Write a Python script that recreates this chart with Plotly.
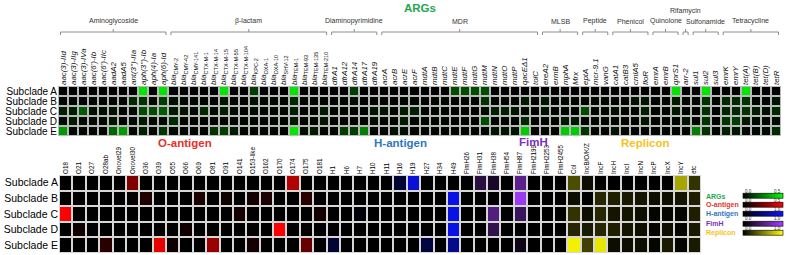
import plotly.graph_objects as go

W, H = 787, 255

subclades = ["Subclade A", "Subclade B", "Subclade C", "Subclade D", "Subclade E"]

# ---------------- ARGs (top heatmap) ----------------
group_names = ["Aminoglycoside", "β-lactam", "Diaminopyrimidine", "MDR", "MLSB", "Peptide",
               "Phenicol", "Quinolone", "Rifamycin", "Sulfonamide", "Tetracycline"]
aminoglycoside = ["aac(3)-IId", "aac(3)-IIg", "aac(3)-IVa", "aac(6')-Ib", "aac(6')-IIc", "aadA2", "aadA5",
                  "ant(3'')-IIa", "aph(3'')-Ib", "aph(4)-Ia", "aph(6)-Id"]
beta_lactam = ["bla_CMY-2", "bla_CMY-42", "bla_CMY-141", "bla_CTX-M-1", "bla_CTX-M-14", "bla_CTX-M-15",
               "bla_CTX-M-55", "bla_CTX-M-104", "bla_KPC-2", "bla_OXA-1", "bla_OXA-10", "bla_SHV-12",
               "bla_TEM-1", "bla_TEM-93", "bla_TEM-135", "bla_TEM-210"]
diaminopyrimidine = ["dfrA1", "dfrA12", "dfrA14", "dfrA17", "dfrA19"]
mdr = ["acrA", "acrB", "acrE", "acrF", "mdtA", "mdtB", "mdtC", "mdtE", "mdtF", "mdtG", "mdtM", "mdtN",
       "mdtO", "mdtP", "qacEΔ1", "tolC"]
mlsb = ["ereA2", "ermB", "mphA", "Mrx"]
peptide = ["eptA", "mcr-9.1", "vanG"]
phenicol = ["catA1", "catB3", "cmlA5", "floR"]
quinolone = ["emrA", "emrB", "qnrS1"]
rifamycin = ["arr-2"]
sulfonamide = ["sul1", "sul2", "sul3"]
tetracycline = ["emrK", "emrY", "tet(A)", "tet(B)", "tet(D)", "tetR"]
arg_groups = [aminoglycoside, beta_lactam, diaminopyrimidine, mdr, mlsb, peptide,
              phenicol, quinolone, rifamycin, sulfonamide, tetracycline]

args_A = [0, 0, 0, 0, 0, 0, 0, 0, 0.45, 0, 0.45,
          0, 0, 0, 0, 0, 0.45, 0, 0, 0.12, 0, 0, 0, 0.45, 0, 0, 0,
          0, 0, 0.12, 0, 0,
          0, 0, 0, 0, 0, 0, 0, 0.15, 0.15, 0.15, 0.15, 0, 0, 0, 0, 0,
          0, 0, 0, 0,
          0, 0, 0,
          0, 0, 0, 0,
          0, 0, 0.45,
          0,
          0, 0.45, 0,
          0, 0, 0.45, 0, 0, 0]
args_B = [0.01, 0.01, 0.01, 0.01, 0.01, 0.01, 0.01, 0.08, 0.1, 0.01, 0.12,
          0.03, 0.01, 0.01, 0.01, 0.01, 0.04, 0.01, 0.01, 0.03, 0.01, 0.01, 0.01, 0.08, 0.01, 0.01, 0.01,
          0.01, 0.01, 0.03, 0.01, 0.01,
          0.01, 0.01, 0.01, 0.01, 0.01, 0.01, 0.01, 0.01, 0.01, 0.01, 0.1, 0.01, 0.01, 0.01, 0.05, 0.01,
          0.04, 0.01, 0.01, 0.01,
          0.01, 0.01, 0.01,
          0.01, 0.01, 0.04, 0.04,
          0.01, 0.01, 0.05,
          0.01,
          0.01, 0.1, 0.01,
          0.08, 0.08, 0.1, 0.01, 0.01, 0.04]
args_C = [0.06, 0.06, 0.18, 0.03, 0.03, 0.04, 0.01, 0.02, 0.15, 0.15, 0.18,
          0.05, 0.04, 0.02, 0.08, 0.02, 0.06, 0.02, 0.01, 0.02, 0.01, 0.01, 0.02, 0.06, 0.01, 0.01, 0.05,
          0.01, 0.01, 0.01, 0.01, 0.04,
          0.04, 0.01, 0.05, 0.06, 0.01, 0.01, 0.01, 0.01, 0.01, 0.01, 0.02, 0.06, 0.06, 0.04, 0.02, 0.01,
          0.04, 0.01, 0.01, 0.01,
          0.15, 0.01, 0.01,
          0.03, 0.01, 0.01, 0.06,
          0.01, 0.01, 0.05,
          0.01,
          0.01, 0.1, 0.01,
          0.07, 0.08, 0.1, 0.06, 0.03, 0.08]
args_D = [0.02, 0.05, 0.02, 0.02, 0.02, 0.04, 0.01, 0.02, 0.05, 0.02, 0.02,
          0.08, 0.01, 0.01, 0.01, 0.01, 0.01, 0.01, 0.01, 0.01, 0.01, 0.01, 0.01, 0.05, 0.01, 0.01, 0.04,
          0.01, 0.01, 0.01, 0.01, 0.03,
          0.01, 0.01, 0.05, 0.01, 0.01, 0.01, 0.01, 0.01, 0.01, 0.01, 0.15, 0.01, 0.01, 0.01, 0.08, 0.01,
          0.01, 0.01, 0.05, 0.05,
          0.01, 0.01, 0.01,
          0.01, 0.01, 0.01, 0.04,
          0.01, 0.01, 0.01,
          0.04,
          0.01, 0.1, 0.01,
          0.1, 0.12, 0.05, 0.02, 0.02, 0.02]
args_E = [0.3, 0.01, 0.01, 0.01, 0.01, 0.2, 0.3, 0.01, 0.06, 0.01, 0.1,
          0.01, 0.01, 0.01, 0.01, 0.1, 0.12, 0.05, 0.01, 0.01, 0.01, 0.01, 0.01, 0.45, 0.03, 0.05, 0.01,
          0.01, 0.12, 0.12, 0.25, 0.01,
          0.01, 0.03, 0.03, 0.01, 0.01, 0.01, 0.01, 0.01, 0.01, 0.01, 0.01, 0.04, 0.04, 0.04, 0.4, 0.01,
          0.01, 0.01, 0.4, 0.4,
          0.1, 0.01, 0.01,
          0.04, 0.01, 0.01, 0.01,
          0.01, 0.01, 0.01,
          0.01,
          0.25, 0.1, 0.01,
          0.06, 0.04, 0.02, 0.02, 0.02, 0.08]

# ---------------- bottom heatmap ----------------
o_antigens = ["O18", "O21", "O27", "O28ab", "Onovel29", "Onovel30", "O36", "O39", "O55", "O66", "O69",
              "O81", "O91", "O141", "O153-like", "O162", "O170", "O174", "O175", "O181"]
o_A = [0, 0, 0, 0, 0, 0.25, 0, 0, 0, 0, 0, 0, 0, 0, 0, 0, 0, 0.35, 0, 0]
o_B = [0, 0, 0, 0, 0, 0.01, 0.06, 0, 0, 0, 0.05, 0, 0.03, 0, 0.04, 0.05, 0, 0, 0.08, 0]
o_C = [0.5, 0, 0, 0, 0, 0, 0, 0, 0, 0, 0, 0, 0, 0.04, 0, 0, 0, 0, 0, 0.04]
o_D = [0, 0.03, 0, 0, 0, 0, 0, 0, 0, 0.03, 0, 0, 0, 0, 0, 0, 0.5, 0, 0, 0]
o_E = [0, 0, 0, 0.08, 0, 0, 0, 0.45, 0.03, 0, 0, 0.3, 0, 0, 0.04, 0, 0, 0, 0.2, 0]

h_antigens = ["H1", "H6", "H7", "H10", "H11", "H16", "H19", "H27", "H34", "H49"]
h_A = [0, 0, 0, 0, 0, 0.2, 0.85, 0, 0, 0]
h_B = [0, 0, 0, 0, 0, 0, 0, 0, 0, 0.9]
h_C = [0, 0, 0.04, 0, 0, 0, 0, 0, 0, 0.9]
h_D = [0, 0, 0, 0, 0, 0, 0, 0, 0, 0.9]
h_E = [0.2, 0, 0, 0, 0, 0, 0, 0.25, 0, 0.55]

fimh_types = ["FimH26", "FimH31", "FimH38", "FimH54", "FimH87", "FimH2199", "FimH2253", "FimH2455"]
f_A = [0, 0.25, 0.15, 0, 0.55, 0, 0, 0]
f_B = [0, 0, 0, 0, 0.95, 0, 0, 0]
f_C = [0, 0, 0.5, 0, 0.35, 0, 0, 0]
f_D = [0, 0, 0.3, 0, 0, 0, 0, 0]
f_E = [0, 0, 0, 0, 0.08, 0, 0, 0]

replicons = ["Col", "IncB/O/K/Z", "IncF", "IncH", "IncI", "IncN", "IncP", "IncX", "IncY", "etc"]
r_A = [0.3, 0.05, 0, 0, 0, 0, 0, 0, 0.65, 0.2]
r_B = [0.05, 0, 0.15, 0.12, 0.1, 0.08, 0.05, 0.05, 0.08, 0.12]
r_C = [0.2, 0.05, 0.15, 0.08, 0.08, 0.05, 0.02, 0.02, 0.02, 0.12]
r_D = [0.15, 0.1, 0.15, 0.12, 0.08, 0.05, 0.02, 0.05, 0.02, 0.1]
r_E = [0.95, 0.25, 0.9, 0.05, 0.05, 0.05, 0.02, 0.1, 0.02, 0.1]

# ---------------- styling ----------------
FONT = "Liberation Sans, Arial, sans-serif"
ARG_COL, O_COL, H_COL, F_COL, R_COL = "#1fa84f", "#e8302a", "#2e78c2", "#7a2fc0", "#f7c21a"


def px_x(p):
    return p / W


def px_y(p):
    return 1 - p / H


def fmt_gene(g):
    if g.startswith("bla_"):
        return "<i>bla</i><sub>" + g[4:] + "</sub>"
    return "<i>" + g + "</i>"


arg_names = [g for grp in arg_groups for g in grp]
arg_z = [args_A, args_B, args_C, args_D, args_E]

TOP_X0, TOP_X1, TOP_Y0, TOP_Y1 = 58, 781, 86, 136
BOT_X0, BOT_X1, BOT_Y0, BOT_Y1 = 59, 701, 175, 253

cb_x = px_x(743)


def cbar(y_px):
    return dict(orientation="h", x=cb_x, xanchor="left", y=px_y(y_px), yanchor="middle",
                len=40, lenmode="pixels", thickness=5, thicknessmode="pixels",
                outlinewidth=0.6, outlinecolor="#000", showticklabels=False, ticks="",
                xpad=0, ypad=0, borderwidth=0)


fig = go.Figure()
fig.add_trace(go.Heatmap(z=arg_z, x=arg_names, y=subclades, xaxis="x", yaxis="y",
                         colorscale=[[0, "#000000"], [1, "#00ff00"]], zmin=0, zmax=0.5,
                         xgap=2, ygap=2, colorbar=cbar(196), hoverinfo="skip"))
bottom_sets = [
    (o_antigens, [o_A, o_B, o_C, o_D, o_E], "#ff0000", 0.5, 205),
    (h_antigens, [h_A, h_B, h_C, h_D, h_E], "#0a14ff", 1.0, 214),
    (fimh_types, [f_A, f_B, f_C, f_D, f_E], "#a43cff", 1.0, 223.5),
    (replicons, [r_A, r_B, r_C, r_D, r_E], "#ffff00", 1.0, 233),
]
for names, z, col, zmax, cby in bottom_sets:
    fig.add_trace(go.Heatmap(z=z, x=names, y=subclades, xaxis="x2", yaxis="y2",
                             colorscale=[[0, "#000000"], [1, col]], zmin=0, zmax=zmax,
                             xgap=2, ygap=2, colorbar=cbar(cby), hoverinfo="skip"))

bottom_names = o_antigens + h_antigens + fimh_types + replicons

axis_common = dict(showgrid=False, zeroline=False, showline=False, ticks="", automargin=False,
                   fixedrange=True)
fig.update_layout(
    width=W, height=H, margin=dict(l=0, r=0, t=0, b=0, autoexpand=False),
    template="none", paper_bgcolor="white", plot_bgcolor="#b9b9b9",
    font=dict(family=FONT, color="#000"),
    showlegend=False,
    xaxis=dict(domain=[px_x(TOP_X0), px_x(TOP_X1)], anchor="y", side="top", type="category",
               categoryorder="array", categoryarray=arg_names, tickmode="array",
               tickvals=arg_names, ticktext=[fmt_gene(g) for g in arg_names],
               tickangle=-90, tickfont=dict(size=7.9, family=FONT, color="#111"), **axis_common),
    yaxis=dict(domain=[px_y(TOP_Y1), px_y(TOP_Y0)], anchor="x", autorange="reversed",
               type="category", tickmode="array", tickvals=subclades,
               tickfont=dict(size=10, family=FONT, color="#000"), **axis_common),
    xaxis2=dict(domain=[px_x(BOT_X0), px_x(BOT_X1)], anchor="y2", side="top", type="category",
                categoryorder="array", categoryarray=bottom_names, tickmode="array",
                tickvals=bottom_names,
                tickangle=-90, tickfont=dict(size=6.3, family=FONT, color="#000"), **axis_common),
    yaxis2=dict(domain=[px_y(BOT_Y1), px_y(BOT_Y0)], anchor="x2", autorange="reversed",
                type="category", tickmode="array", tickvals=subclades,
                tickfont=dict(size=10.5, family=FONT, color="#000"), **axis_common),
)

shapes = [dict(type="rect", xref="x2 domain", yref="y2 domain", x0=0, x1=1, y0=0, y1=1,
               fillcolor="#d6d6d6", line=dict(width=0), layer="below")]
annotations = []

# group brackets and names above the ARG columns
start = 0
for gname, grp in zip(group_names, arg_groups):
    i0, i1 = start, start + len(grp) - 1
    start += len(grp)
    xa, xb = i0 - 0.25, i1 + 0.25
    xm = (i0 + i1) / 2
    line = dict(color="#8c8c8c", width=1)
    shapes.append(dict(type="line", xref="x", yref="paper", x0=xa, x1=xb, y0=px_y(32), y1=px_y(32), line=line))
    shapes.append(dict(type="line", xref="x", yref="paper", x0=xa, x1=xa, y0=px_y(32), y1=px_y(35), line=line))
    shapes.append(dict(type="line", xref="x", yref="paper", x0=xb, x1=xb, y0=px_y(32), y1=px_y(35), line=line))
    shapes.append(dict(type="line", xref="x", yref="paper", x0=xm, x1=xm, y0=px_y(29), y1=px_y(32), line=line))
    ty = 11 if gname == "Rifamycin" else 21
    annotations.append(dict(text=gname, xref="x", yref="paper", x=xm, y=px_y(ty), showarrow=False,
                            xanchor="center", yanchor="middle",
                            font=dict(size=7, family=FONT, color="#333")))

# section titles
titles = [("ARGs", ARG_COL, 420, 8), ("O-antigen", O_COL, 185, 143), ("H-antigen", H_COL, 400, 143),
          ("FimH", F_COL, 533, 142), ("Replicon", R_COL, 645, 143)]
for t, c, x, y in titles:
    annotations.append(dict(text="<b>" + t + "</b>", xref="paper", yref="paper", x=px_x(x), y=px_y(y),
                            showarrow=False, xanchor="center", yanchor="middle",
                            font=dict(size=11.5, family=FONT, color=c)))

# colour legend labels and bar ends
legend_items = [("ARGs", ARG_COL, 196, "0.5"), ("O-antigen", O_COL, 205, "0.5"), ("H-antigen", H_COL, 214, "1.0"),
                ("FimH", F_COL, 223.5, "1.0"), ("Replicon", R_COL, 233, "1.0")]
for t, c, y, top in legend_items:
    annotations.append(dict(text="<b>" + t + "</b>", xref="paper", yref="paper", x=px_x(704), y=px_y(y),
                            showarrow=False, xanchor="left", yanchor="middle",
                            font=dict(size=7, family=FONT, color=c)))
    annotations.append(dict(text="0.0", xref="paper", yref="paper", x=px_x(743), y=px_y(y - 5),
                            showarrow=False, xanchor="left", yanchor="middle",
                            font=dict(size=4.5, family=FONT, color="#333")))
    annotations.append(dict(text=top, xref="paper", yref="paper", x=px_x(783), y=px_y(y - 5),
                            showarrow=False, xanchor="right", yanchor="middle",
                            font=dict(size=4.5, family=FONT, color="#333")))

fig.update_layout(shapes=shapes, annotations=annotations)
fig.write_html("out.html", config={"displayModeBar": False},
               post_script="document.body.style.margin='0';document.body.style.padding='0';"
                           "document.body.style.overflow='hidden';")
